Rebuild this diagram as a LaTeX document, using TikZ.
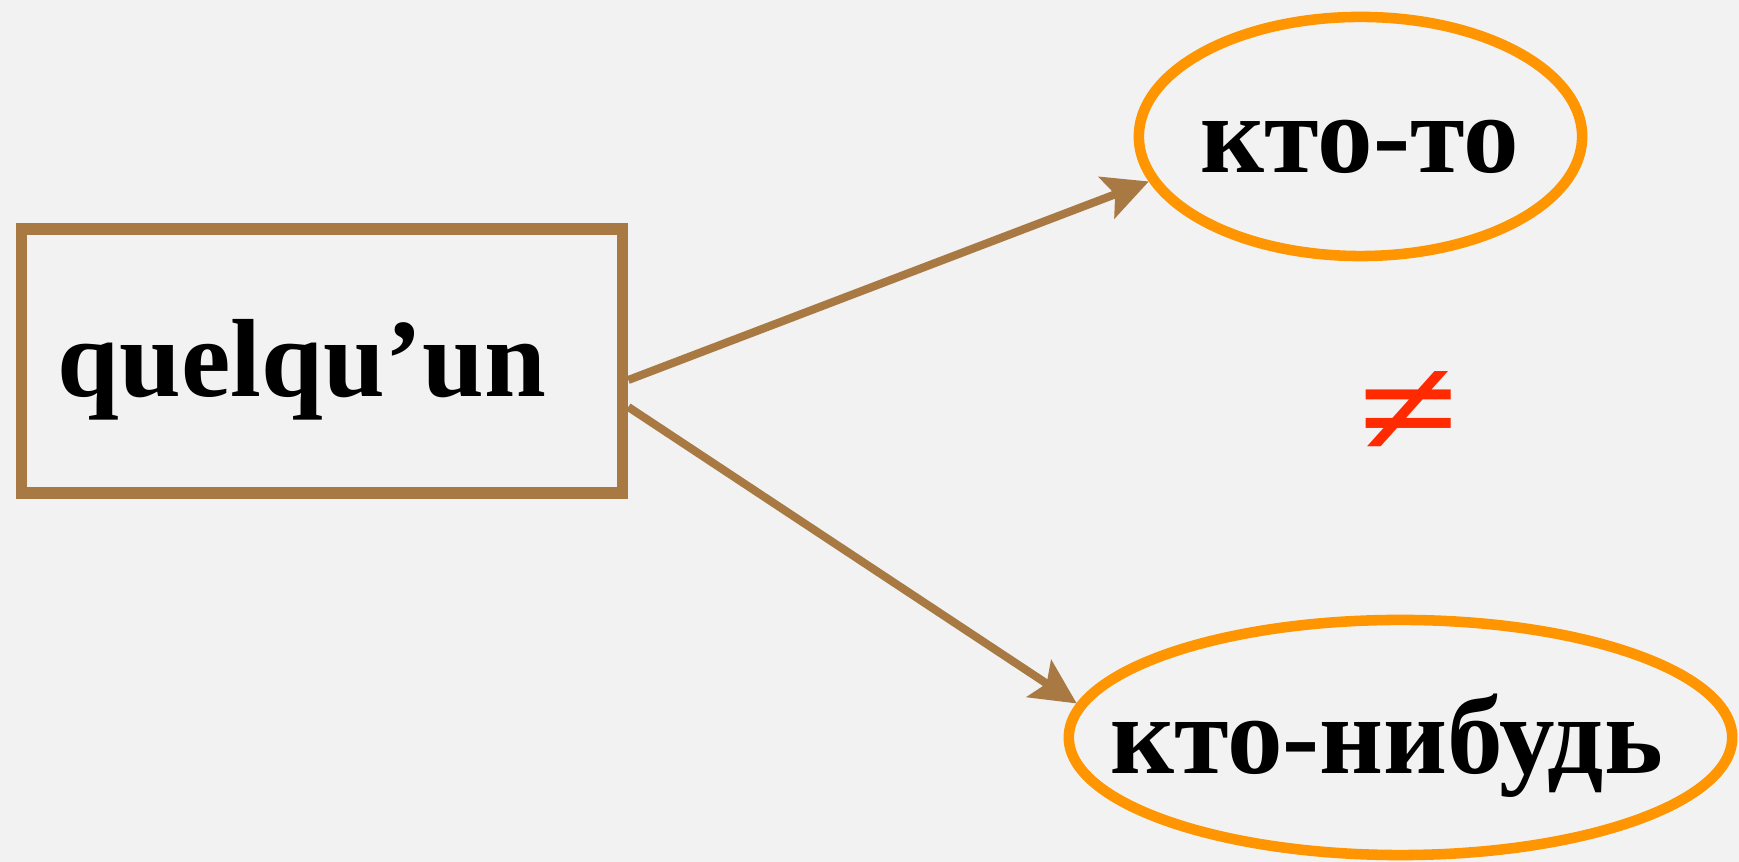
\documentclass[tikz,border=0pt]{standalone}
\usepackage{fontspec}
\setmainfont{Liberation Serif}[BoldFont={Liberation Serif Bold}]
\usetikzlibrary{shapes.geometric,arrows.meta,calc}
\definecolor{bgc}{HTML}{F2F2F2}
\definecolor{brownc}{HTML}{A97943}
\definecolor{orangec}{HTML}{FF9500}
\definecolor{redc}{HTML}{FF2A00}
\begin{document}
\begin{tikzpicture}[x=0.01cm,y=-0.01cm,
  lbl/.style={font=\fontsize{31.6pt}{38pt}\selectfont\bfseries, inner sep=0pt},
  boxnode/.style={lbl, draw=brownc, line width=3.2pt, rectangle, minimum width=6.01cm, minimum height=2.64cm},
  ovalnode/.style={draw=orangec, line width=3pt, ellipse, inner sep=0pt},
  link/.style={draw=brownc, line width=2.3pt, -{Stealth[length=0.45cm,width=0.44cm,inset=0.09cm]}}]
\fill[bgc] (0,0) rectangle (1739,862);
\useasboundingbox (0,0) rectangle (1739,862);
\node[boxnode, text width=5.28cm, align=left, text height=0.70cm, text depth=0pt] (q) at (322,361) {quelqu’un};
\node[ovalnode, minimum width=4.43cm, minimum height=2.39cm] (a) at (1360.5,136.5) {};
\node[lbl, anchor=base] (ta) at (1360,173) {кто-то};
\node[ovalnode, minimum width=6.63cm, minimum height=2.35cm] (b) at (1400.5,737.5) {};
\node[lbl, anchor=base] (tb) at (1386.5,774) {кто-нибудь};
\node[font=\fontsize{52pt}{54pt}\selectfont\bfseries, text=redc, inner sep=0pt] (ne) at (1409,414) {\scalebox{1}[0.78]{≠}};
\draw[link] ($(q.east)+(0,19)$) -- (a.192);
\draw[link] ($(q.east)+(0,46)$) -- (b.174);
\end{tikzpicture}
\end{document}
